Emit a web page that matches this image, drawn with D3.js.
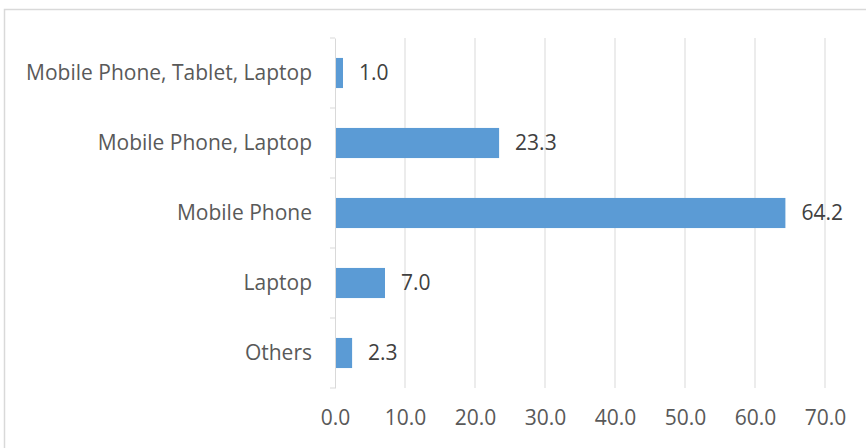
<!DOCTYPE html>
<html>
<head>
<meta charset="utf-8">
<script src="https://cdn.jsdelivr.net/npm/d3@7"></script>
<style>
  body { margin: 0; background: #fff; }
  text { font-family: "Open Sans", "Liberation Sans", sans-serif; }
</style>
</head>
<body>
<script>
// data
let categories = ['Mobile Phone, Tablet, Laptop', 'Mobile Phone, Laptop', 'Mobile Phone', 'Laptop', 'Others'];
let values = [1.0, 23.3, 64.2, 7.0, 2.3];
let ticks = [0, 10, 20, 30, 40, 50, 60, 70];

let width = 866, height = 448;
let margin = {top: 38, bottom: 60, left: 335, right: 41};

let svg = d3.select('body').append('svg').attr('width', width).attr('height', height);

// chart frame
svg.append('rect').attr('x', 4.5).attr('y', 9.5).attr('width', 900).attr('height', 500)
  .attr('fill', 'none').attr('stroke', '#d9d9d9').attr('stroke-width', 1.5);

let xScale = d3.scaleLinear().domain([0, 70]).range([margin.left, width - margin.right]);
let yScale = d3.scaleBand().domain(categories).range([margin.top, height - margin.bottom]).paddingInner(0.57).paddingOuter(0.285);

// gridlines
svg.append('g').selectAll('line').data(ticks.slice(1)).enter().append('line')
  .attr('x1', d => xScale(d)).attr('x2', d => xScale(d))
  .attr('y1', margin.top).attr('y2', height - margin.bottom)
  .attr('stroke', '#d9d9d9').attr('stroke-width', 1);

// category axis
let yAxis = svg.append('g').attr('transform', `translate(${margin.left},0)`)
  .call(d3.axisLeft(yScale).tickSize(0).tickPadding(23));
yAxis.select('.domain').attr('stroke', '#d9d9d9');
yAxis.selectAll('text').attr('fill', '#595959').style('font-size', '21px');
// boundary ticks between categories
let step = yScale.step();
let bounds = d3.range(categories.length + 1).map(i => margin.top + i * step);
svg.append('g').selectAll('line').data(bounds).enter().append('line')
  .attr('x1', margin.left - 5).attr('x2', margin.left)
  .attr('y1', d => d).attr('y2', d => d)
  .attr('stroke', '#d9d9d9');

// value axis labels
let xAxis = svg.append('g').attr('transform', `translate(0,${height - margin.bottom})`)
  .call(d3.axisBottom(xScale).tickValues(ticks).tickFormat(d3.format('.1f')).tickSize(0).tickPadding(22));
xAxis.select('.domain').remove();
xAxis.selectAll('text').attr('fill', '#595959').style('font-size', '21px');

// bars
let data = categories.map((c, i) => ({cat: c, value: values[i]}));
svg.selectAll('.bar').data(data).enter().append('rect').attr('class', 'bar')
  .attr('x', xScale(0) + 1).attr('y', d => yScale(d.cat))
  .attr('width', d => xScale(d.value) - xScale(0)).attr('height', yScale.bandwidth())
  .attr('fill', '#5b9bd5');

// value labels
svg.selectAll('.lbl').data(data).enter().append('text').attr('class', 'lbl')
  .attr('x', d => xScale(d.value) + 17).attr('y', d => yScale(d.cat) + yScale.bandwidth() / 2)
  .attr('dy', '0.35em').text(d => d3.format('.1f')(d.value))
  .attr('fill', '#404040').style('font-size', '21px');
</script>
</body>
</html>
